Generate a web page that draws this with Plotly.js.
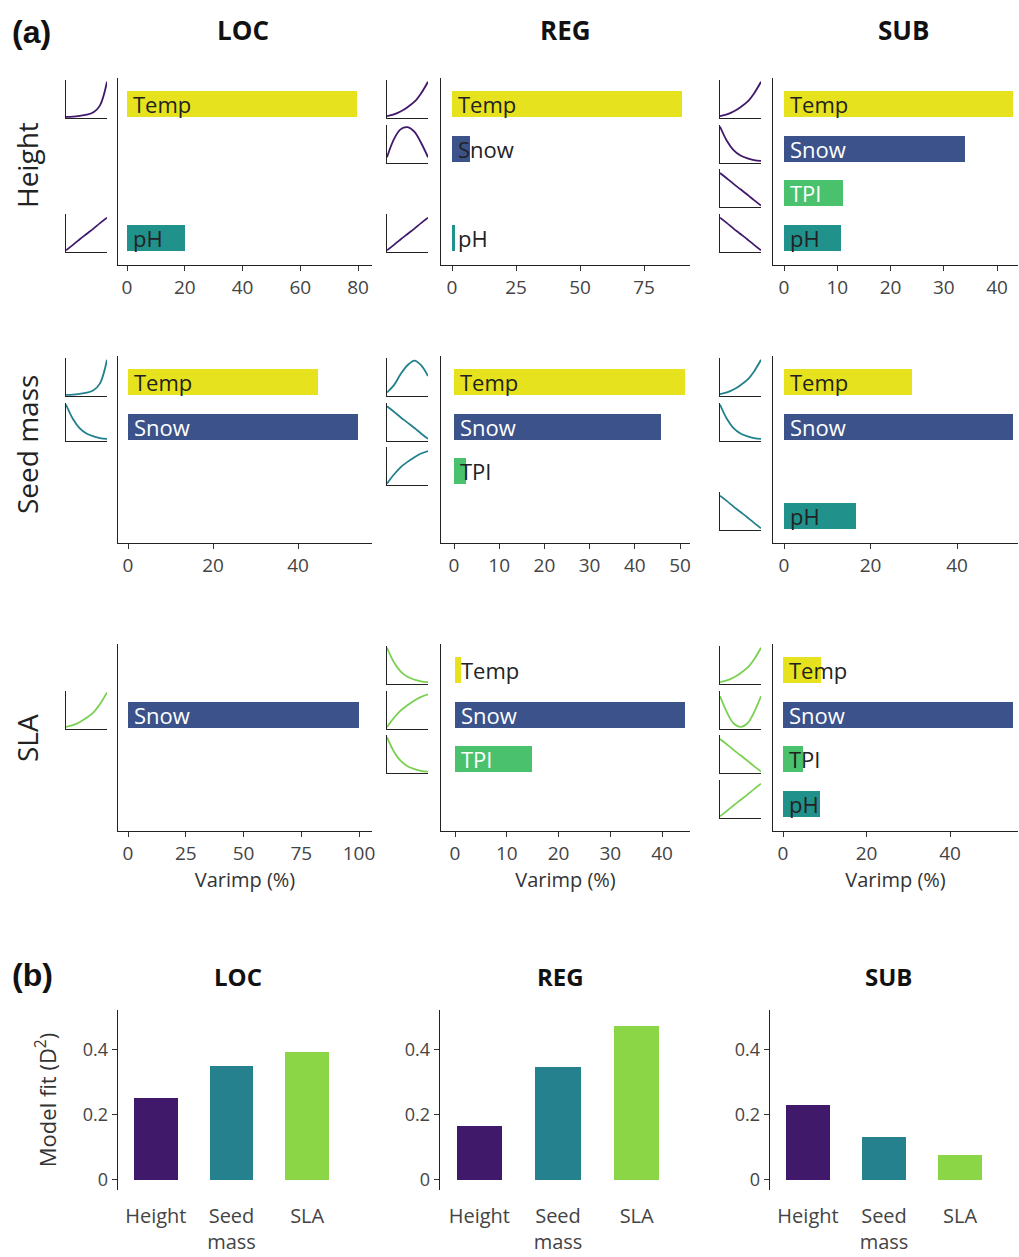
<!DOCTYPE html>
<html>
<head>
<meta charset="utf-8">
<script src="https://cdn.plot.ly/plotly-3.0.1.min.js"></script>
<style>body{margin:0;background:#fff}</style>
</head>
<body>
<div id="chart" style="width:1019px;height:1257px"></div>
<script>
// ---- data ----
const variables = ['Temp', 'Snow', 'TPI', 'pH'];
const varColors = ['#e6e31e', '#3b528b', '#4ac16d', '#21918c'];
const traits = ['Height', 'Seed mass', 'SLA'];
const scales = ['LOC', 'REG', 'SUB'];
const curveColors = ['#40196b', '#23818d', '#7ad151'];

// varimp (%) per trait row, scale column; null = not selected
const varimpHeight = [[79.5, null, null, 20], [90, 7, null, 1.2], [43, 34, 11, 10.7]];
const varimpSeed   = [[44.7, 54, null, null], [51, 45.8, 2.7, null], [29.6, 52.9, null, 16.6]];
const varimpSLA    = [[null, 100, null, null], [1.2, 44.4, 14.9, null], [9, 55, 4.8, 8.9]];

// response curve shapes
const curveX    = [0, 0.17, 0.33, 0.5, 0.67, 0.83, 1];
const riseSharp = [0.03, 0.04, 0.06, 0.09, 0.16, 0.35, 1];
const riseConvex= [0.05, 0.1, 0.18, 0.3, 0.45, 0.68, 1];
const riseLine  = [0.05, 0.2, 0.35, 0.5, 0.65, 0.8, 0.95];
const riseConc  = [0.05, 0.3, 0.5, 0.65, 0.78, 0.88, 0.95];
const fallConvex= [1, 0.6, 0.35, 0.2, 0.12, 0.07, 0.05];
const fallLine  = [0.95, 0.8, 0.65, 0.5, 0.35, 0.2, 0.05];
const hump      = [0.15, 0.65, 0.92, 0.98, 0.85, 0.55, 0.15];
const humpLate  = [0.1, 0.3, 0.6, 0.85, 0.98, 0.85, 0.55];
const uShape    = [0.9, 0.45, 0.15, 0.05, 0.15, 0.45, 0.9];
const curvesHeight = [[riseSharp, null, null, riseLine], [riseConvex, hump, null, riseLine], [riseConvex, fallConvex, fallLine, fallLine]];
const curvesSeed   = [[riseSharp, fallConvex, null, null], [humpLate, fallLine, riseConc], [riseConvex, fallConvex, null, fallLine]];
const curvesSLA    = [[null, riseConvex, null, null], [fallConvex, riseConc, fallConvex, null], [riseConvex, uShape, fallLine, riseLine]];

// model fit (D2)
const fitCats = ['Height', 'Seed<br>mass', 'SLA'];
const fitColors = ['#40196b', '#26818e', '#8bd646'];
const fitLOC = [0.25, 0.35, 0.39];
const fitREG = [0.165, 0.345, 0.47];
const fitSUB = [0.23, 0.13, 0.075];

// ---- layout helpers ----
const W = 1019, H = 1257;
const px = v => v / W, py = v => 1 - v / H;
const colPx = [[118, 372], [441, 690], [773, 1018]];
const insetPx = [66, 387, 720];
const rowTop = [78, 356, 644];
const slot = 44.7;
// per panel: [zero px, ref value, ref px, dtick]
const axisCal = [
  [[127, 80, 358, 20], [452, 75, 644, 25], [784, 40, 997, 10]],
  [[128, 40, 298, 20], [454, 50, 680, 10], [784, 40, 957, 20]],
  [[128, 100, 359, 25], [455, 40, 662, 10], [783, 40, 950, 20]]
];
const varimp = [varimpHeight, varimpSeed, varimpSLA];
const curves = [curvesHeight, curvesSeed, curvesSLA];
const font = 'Open Sans, sans-serif';

const data = [];
const layout = {
  width: W, height: H, margin: {l: 0, r: 0, t: 0, b: 0},
  showlegend: false, paper_bgcolor: '#fff', plot_bgcolor: '#fff',
  font: {family: font, color: '#222'}, annotations: [], bargap: 0
};
let n = 0;
function nextAxis() { n++; return n === 1 ? ['x', 'y', 'xaxis', 'yaxis'] : ['x' + n, 'y' + n, 'xaxis' + n, 'yaxis' + n]; }

for (let r = 0; r < 3; r++) {
  for (let c = 0; c < 3; c++) {
    const [xr, yr, xk, yk] = nextAxis();
    const [z, rv, rp, dt] = axisCal[r][c];
    const k = (rp - z) / rv;
    const [l, rt] = colPx[c];
    const top = rowTop[r], bot = top + 187;
    const c0 = top + 26;
    layout[xk] = {domain: [px(l), px(rt)], range: [(l - z) / k, (rt - z) / k], anchor: yr,
      showline: true, linecolor: '#222', linewidth: 1.3, ticks: 'outside', ticklen: 5, tickcolor: '#333',
      dtick: dt, tick0: 0, showgrid: false, zeroline: false, tickfont: {size: 19, color: '#444'},
      title: r === 2 ? {text: 'Varimp (%)', font: {size: 20, color: '#333'}, standoff: 8} : undefined};
    layout[yk] = {domain: [py(bot), py(top)], range: [3 + (bot - c0 - 3 * slot) / slot, -(c0 - top) / slot],
      anchor: xr, showline: true, linecolor: '#222', linewidth: 1.3, showticklabels: false, ticks: '',
      showgrid: false, zeroline: false};
    const vals = varimp[r][c];
    const ys = [], xs = [], cols = [];
    vals.forEach((v, i) => { if (v !== null) { ys.push(i); xs.push(v); cols.push(varColors[i]); } });
    data.push({type: 'bar', orientation: 'h', x: xs, y: ys, width: 0.58, marker: {color: cols},
      xaxis: xr, yaxis: yr, hoverinfo: 'none'});
    vals.forEach((v, i) => {
      if (v === null) return;
      const barPx = v * k;
      const white = (i === 1 || i === 2) && barPx > 55;
      layout.annotations.push({xref: xr, yref: yr, x: 0, y: i, xanchor: 'left', yanchor: 'middle', xshift: 4,
        text: variables[i], showarrow: false, font: {size: 22, color: white ? '#fff' : '#222'}});
      // inset response curve
      const cv = curves[r][c][i];
      if (!cv) return;
      const [ixr, iyr, ixk, iyk] = nextAxis();
      const cy = c0 + i * slot;
      layout[ixk] = {domain: [px(insetPx[c]), px(insetPx[c] + 41)], range: [0, 1], anchor: iyr,
        showline: true, linecolor: '#222', linewidth: 1, showticklabels: false, ticks: '', showgrid: false, zeroline: false};
      layout[iyk] = {domain: [py(cy + 14), py(cy - 24)], range: [0, 1.05], anchor: ixr,
        showline: true, linecolor: '#222', linewidth: 1, showticklabels: false, ticks: '', showgrid: false, zeroline: false};
      data.push({type: 'scatter', mode: 'lines', x: curveX, y: cv, line: {color: curveColors[r], width: 1.8, shape: 'spline'},
        xaxis: ixr, yaxis: iyr, hoverinfo: 'none'});
    });
  }
}

// ---- part (b) ----
const fits = [fitLOC, fitREG, fitSUB];
const bPx = [[118, 345], [440, 676], [770, 998]];
fits.forEach((f, c) => {
  const [xr, yr, xk, yk] = nextAxis();
  layout[xk] = {domain: [px(bPx[c][0]), px(bPx[c][1])], anchor: yr, showline: false, ticks: '',
    ticklabelstandoff: 12, tickfont: {size: 20, color: '#444'}, showgrid: false, zeroline: false};
  layout[yk] = {domain: [py(1190), py(1010)], range: [-0.031, 0.52], anchor: xr, showline: true,
    linecolor: '#222', linewidth: 1.3, ticks: 'outside', ticklen: 5, tickcolor: '#333', dtick: 0.2,
    tickformat: '.1~f', tickfont: {size: 18, color: '#444'}, showgrid: false, zeroline: false,
    title: c === 0 ? {text: 'Model fit (D<sup>2</sup>)', font: {size: 22, color: '#333'}, standoff: 20} : undefined};
  data.push({type: 'bar', x: fitCats, y: f, width: 0.58, marker: {color: fitColors}, xaxis: xr, yaxis: yr, hoverinfo: 'none'});
});

// ---- titles ----
const txt = (x, y, t, size, opts) => layout.annotations.push(Object.assign({xref: 'paper', yref: 'paper', x: px(x), y: py(y),
  xanchor: 'center', yanchor: 'middle', text: t, showarrow: false, font: {size: size, color: '#111', family: font}}, opts || {}));
txt(10, 32, '<b>(a)</b>', 32, {xanchor: 'left', font: {size: 32, color: '#111', family: 'Liberation Sans, Arial'}});
txt(10, 975, '<b>(b)</b>', 32, {xanchor: 'left', font: {size: 32, color: '#111', family: 'Liberation Sans, Arial'}});
[243, 565, 903].forEach((x, i) => txt(x, 30, '<b>' + scales[i] + '</b>', 26));
[238, 560, 888].forEach((x, i) => txt(x, 976, '<b>' + scales[i] + '</b>', 24));
[165, 445, 738].forEach((y, i) => txt(27, y, traits[i], 28, {textangle: -90, font: {size: 28, color: '#222', family: font}}));

Plotly.newPlot('chart', data, layout, {staticPlot: true});
</script>
</body>
</html>
